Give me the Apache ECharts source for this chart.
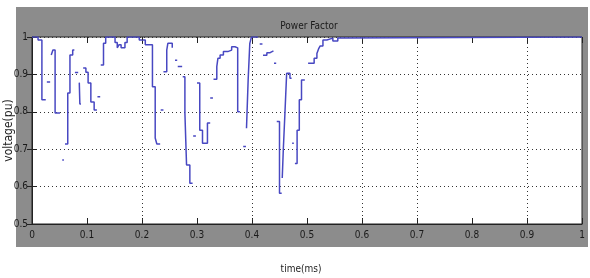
<!DOCTYPE html>
<html>
<head>
<meta charset="utf-8">
<script src="https://cdn.jsdelivr.net/npm/echarts@6/dist/echarts.min.js"></script>
<style>
  html, body { margin: 0; padding: 0; background: #fff; }
  #chart { width: 590px; height: 278px; }
</style>
</head>
<body>
<div id="chart"></div>
<script>
// time (s) and power factor, sample-and-hold; null breaks the trace
var time = [
  0, 0.011, 0.018, 0.025, 0.025,
  0.027, 0.033, 0.033,
  0.035, 0.038, 0.042, 0.051, 0.051,
  0.055, 0.058, 0.058,
  0.060, 0.065, 0.069, 0.074, 0.077, 0.077,
  0.078, 0.084, 0.084,
  0.086, 0.087, 0.089, 0.089,
  0.093, 0.098, 0.102, 0.107, 0.113, 0.118, 0.118,
  0.119, 0.124, 0.124,
  0.125, 0.130, 0.134, 0.151, 0.155, 0.158, 0.162, 0.169, 0.173, 0.195, 0.206, 0.219, 0.224, 0.227, 0.233, 0.233,
  0.234, 0.239, 0.239,
  0.239, 0.245, 0.247, 0.255, 0.256, 0.256,
  0.260, 0.264, 0.264,
  0.265, 0.273, 0.273,
  0.274, 0.278, 0.281, 0.287, 0.292, 0.292,
  0.293, 0.298, 0.298,
  0.300, 0.305, 0.310, 0.319, 0.324, 0.324,
  0.324, 0.329, 0.329,
  0.330, 0.336, 0.338, 0.342, 0.348, 0.356, 0.363, 0.369, 0.374, 0.378, 0.378,
  0.384, 0.389, 0.389,
  0.390, 0.393, 0.396, 0.399, 0.411, 0.411,
  0.414, 0.419, 0.419,
  0.420, 0.427, 0.433, 0.439, 0.439,
  0.440, 0.444, 0.444,
  0.445, 0.450, 0.454, 0.454,
  0.455, 0.457, 0.460, 0.463, 0.469, 0.472, 0.472,
  0.473, 0.476, 0.476,
  0.478, 0.482, 0.486, 0.490, 0.496, 0.496,
  0.502, 0.513, 0.518, 0.521, 0.524, 0.529, 0.536, 0.547, 0.556, 0.564, 1.0
];
var pf = [
  1.0, 0.992, 0.832, 0.832, null,
  0.880, 0.880, null,
  0.952, 0.965, 0.797, 0.797, null,
  0.671, 0.671, null,
  0.714, 0.850, 0.952, 0.965, 0.965, null,
  0.905, 0.905, null,
  0.878, 0.821, 0.821, null,
  0.917, 0.906, 0.877, 0.826, 0.805, 0.805, null,
  0.840, 0.840, null,
  0.925, 0.983, 1.0, 0.985, 0.971, 0.979, 0.971, 0.985, 1.0, 0.992, 0.979, 0.867, 0.730, 0.714, 0.714, null,
  0.805, 0.805, null,
  0.907, 0.965, 0.983, 0.971, 0.971, null,
  0.938, 0.938, null,
  0.921, 0.921, null,
  0.894, 0.797, 0.658, 0.609, 0.609, null,
  0.735, 0.735, null,
  0.877, 0.751, 0.716, 0.770, 0.770, null,
  0.837, 0.837, null,
  0.887, 0.921, 0.943, 0.952, 0.961, 0.965, 0.974, 0.971, 0.800, 0.800, null,
  0.707, 0.707, null,
  0.756, 0.885, 0.983, 1.0, 1.0, null,
  0.981, 0.981, null,
  0.951, 0.958, 0.963, 0.963, null,
  0.930, 0.930, null,
  0.774, 0.582, 0.582, null,
  0.623, 0.702, 0.800, 0.903, 0.890, 0.890, null,
  0.716, 0.716, null,
  0.662, 0.751, 0.832, 0.885, 0.885, null,
  0.930, 0.943, 0.956, 0.968, 0.976, 0.992, 0.997, 0.989, 0.997, 1.0, 1.0
];
var xTicks = ['0', '0.1', '0.2', '0.3', '0.4', '0.5', '0.6', '0.7', '0.8', '0.9', '1'];
var yTicks = ['0.5', '0.6', '0.7', '0.8', '0.9', '1'];
// vertical grid lines that show up in the scan
var xGrid = [0.2, 0.4, 0.6, 0.7, 0.9];

var font = 'Liberation Sans Narrow, DejaVu Sans Condensed, sans-serif';

// hold each value until the next sample time
var points = [];
for (var i = 0; i < time.length; i++) {
  if (pf[i] === null) { points.push([time[i], null]); continue; }
  points.push([time[i], pf[i]]);
  if (i + 1 < time.length && pf[i + 1] !== null) points.push([time[i + 1], pf[i]]);
}

var chart = echarts.init(document.getElementById('chart'));
chart.setOption({
  animation: false,
  graphic: [{
    type: 'rect', z: -10, silent: true,
    shape: { x: 16, y: 7, width: 572, height: 240 },
    style: { fill: '#8c8c8c' }
  }],
  title: {
    text: 'Power Factor',
    left: 304, top: 16, textAlign: 'center',
    textStyle: { fontSize: 10, fontWeight: 'normal', color: '#1a1a1a', fontFamily: font }
  },
  grid: {
    left: 32, top: 37, width: 550, height: 187, outerBoundsMode: 'none',
    show: true, backgroundColor: '#fff', borderColor: '#222', borderWidth: 1
  },
  xAxis: [{
    type: 'value', min: 0, max: 1, interval: 0.1,
    name: 'time(ms)', nameLocation: 'middle', nameGap: 40, nameMoveOverlap: false,
    nameTextStyle: { fontSize: 10, color: '#222', fontFamily: font, padding: [0, 12, 0, 0] },
    axisLine: { lineStyle: { color: '#222' } },
    axisTick: { inside: true, length: 6, lineStyle: { color: '#222' } },
    axisLabel: {
      fontSize: 10, color: '#1a1a1a', fontFamily: font, margin: 6,
      formatter: function (v) { return xTicks[Math.round(v * 10)]; }
    },
    splitLine: { show: false }
  }, {
    type: 'value', min: 0, max: 1, interval: 0.1, position: 'top',
    axisLine: { show: false },
    axisTick: { inside: true, length: 6, lineStyle: { color: '#222' } },
    axisLabel: { show: false }, splitLine: { show: false }
  }],
  yAxis: [{
    type: 'value', min: 0.5, max: 1, interval: 0.1,
    name: 'voltage(pu)', nameLocation: 'middle', nameGap: 17, nameRotate: 90, nameMoveOverlap: false,
    nameTextStyle: { fontSize: 12, color: '#222', fontFamily: font },
    axisLine: { show: true, lineStyle: { color: '#222' } },
    axisTick: { show: true, inside: true, length: 5, lineStyle: { color: '#222' } },
    axisLabel: {
      fontSize: 10, color: '#1a1a1a', fontFamily: font, margin: 4,
      formatter: function (v) { return yTicks[Math.round((v - 0.5) * 10)]; }
    },
    splitLine: { show: true, lineStyle: { type: [1, 3], width: 1, color: '#333' } }
  }, {
    type: 'value', min: 0.5, max: 1, interval: 0.1, position: 'right',
    axisLine: { show: false },
    axisTick: { show: true, inside: true, length: 5, lineStyle: { color: '#222' } },
    axisLabel: { show: false }, splitLine: { show: false }
  }],
  series: [{
    type: 'line',
    data: points,
    showSymbol: false,
    connectNulls: false,
    lineStyle: { color: '#4848c2', width: 1.5 },
    z: 3,
    markLine: {
      silent: true, symbol: 'none', label: { show: false },
      lineStyle: { type: [1, 3], width: 1, color: '#333' },
      data: xGrid.map(function (x) { return { xAxis: x }; })
    }
  }]
});
</script>
</body>
</html>
